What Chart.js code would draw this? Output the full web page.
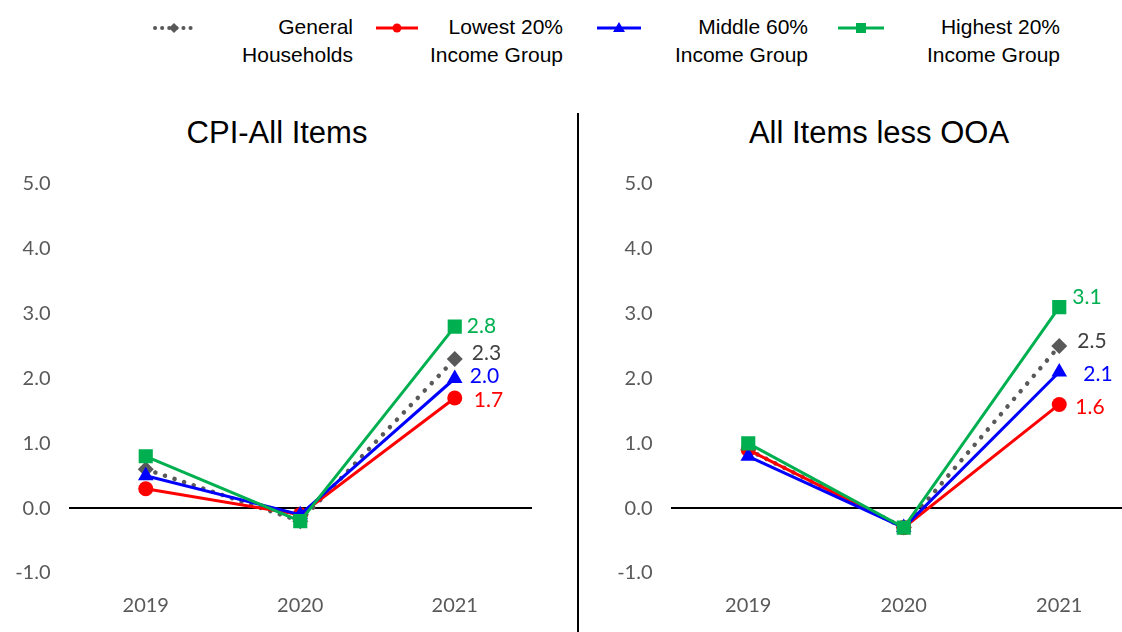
<!DOCTYPE html>
<html>
<head>
<meta charset="utf-8">
<script src="https://cdn.jsdelivr.net/npm/chart.js@4.4.1/dist/chart.umd.min.js"></script>
<style>
  html, body { margin:0; padding:0; background:#fff; }
  body { width:1122px; height:632px; overflow:hidden; position:relative; font-family:"Liberation Sans", Arial, sans-serif; }
  .abs { position:absolute; }
  .legtext { position:absolute; width:220px; text-align:right; font-size:21px; line-height:28px; color:#000; top:13px; }
  .title { position:absolute; font-size:31px; line-height:36px; top:115px; transform:translateX(-50%); white-space:nowrap; color:#000; }
  #divider { position:absolute; left:577px; top:113px; width:2px; height:519px; background:#000; }
</style>
</head>
<body>
<!-- Legend symbols -->
<svg class="abs" style="left:0;top:0" width="1122" height="60">
  <line x1="155" y1="28" x2="193" y2="28" stroke="#595959" stroke-width="4" stroke-dasharray="0.1 7" stroke-linecap="round"/>
  <polygon points="174,23 179,28 174,33 169,28" fill="#595959"/>
  <line x1="376" y1="28" x2="418" y2="28" stroke="#FF0000" stroke-width="3"/>
  <circle cx="397" cy="28" r="4.5" fill="#FF0000"/>
  <line x1="597" y1="28" x2="641" y2="28" stroke="#0000FF" stroke-width="3"/>
  <polygon points="619,22 625,32 613,32" fill="#0000FF"/>
  <line x1="838" y1="28" x2="884" y2="28" stroke="#00B050" stroke-width="3"/>
  <rect x="856" y="23" width="10" height="10" fill="#00B050"/>
</svg>
<div class="legtext" style="left:133px">General<br>Households</div>
<div class="legtext" style="left:343px">Lowest 20%<br>Income Group</div>
<div class="legtext" style="left:588px">Middle 60%<br>Income Group</div>
<div class="legtext" style="left:840px">Highest 20%<br>Income Group</div>

<div class="title" style="left:277px">CPI-All Items</div>
<div class="title" style="left:879px">All Items less OOA</div>
<div id="divider"></div>

<div class="abs" style="left:0;top:0"><canvas id="c1" width="578" height="632"></canvas></div>
<div class="abs" style="left:578px;top:0"><canvas id="c2" width="569" height="632"></canvas></div>

<script>
// ---- Data ----
const years = ['2019', '2020', '2021'];
const yTicks = [-1, 0, 1, 2, 3, 4, 5];

const seriesNames = ['General Households', 'Lowest 20% Income Group', 'Middle 60% Income Group', 'Highest 20% Income Group'];

// CPI-All Items
const cpiGeneral = [0.6, -0.2, 2.3];
const cpiLowest  = [0.3, -0.1, 1.7];
const cpiMiddle  = [0.5, -0.1, 2.0];
const cpiHighest = [0.8, -0.2, 2.8];

// All Items less OOA
const ooaGeneral = [0.9, -0.3, 2.5];
const ooaLowest  = [0.9, -0.3, 1.6];
const ooaMiddle  = [0.8, -0.3, 2.1];
const ooaHighest = [1.0, -0.3, 3.1];

// ---- Styles ----
const COLORS = { general:'#595959', lowest:'#FF0000', middle:'#0000FF', highest:'#00B050' };
const LABEL_COLORS = { general:'#404040', lowest:'#FF0000', middle:'#0000FF', highest:'#00B050' };
const tickFont = { family:'Lato, "Open Sans", sans-serif', size:20 };

function makeDatasets(g, l, m, h) {
  return [
    { key:'highest', label:seriesNames[3], data:h, borderColor:COLORS.highest, backgroundColor:COLORS.highest,
      borderWidth:3, pointStyle:'rect', pointRadius:10, order:0 },
    { key:'middle', label:seriesNames[2], data:m, borderColor:COLORS.middle, backgroundColor:COLORS.middle,
      borderWidth:3, pointStyle:'triangle', pointRadius:9, order:1 },
    { key:'lowest', label:seriesNames[1], data:l, borderColor:COLORS.lowest, backgroundColor:COLORS.lowest,
      borderWidth:3, pointStyle:'circle', pointRadius:7.5, order:2 },
    { key:'general', label:seriesNames[0], data:g, borderColor:COLORS.general, backgroundColor:COLORS.general,
      borderWidth:4.5, borderDash:[0.1, 10], borderCapStyle:'round', pointStyle:'rectRot', pointRadius:8, order:3 }
  ].map(d => Object.assign({ fill:false, tension:0, pointBorderWidth:0, pointHoverRadius:d.pointRadius }, d));
}

const endLabelPlugin = {
  id:'endLabels',
  afterDatasetsDraw(chart, args, opts) {
    const ctx = chart.ctx;
    ctx.save();
    ctx.font = '21px Lato, "Open Sans", sans-serif';
    ctx.textAlign = 'left';
    ctx.textBaseline = 'middle';
    chart.data.datasets.forEach((ds, i) => {
      const meta = chart.getDatasetMeta(i);
      const last = meta.data[meta.data.length - 1];
      const off = opts.offsets[ds.key] || [12, 0];
      ctx.fillStyle = LABEL_COLORS[ds.key];
      ctx.fillText(ds.data[ds.data.length - 1].toFixed(1), last.x + off[0], last.y + off[1]);
    });
    ctx.restore();
  }
};

function makeChart(id, datasets, yWidth, padRight, offsets) {
  return new Chart(document.getElementById(id), {
    type:'line',
    data:{ labels:years, datasets },
    plugins:[endLabelPlugin],
    options:{
      responsive:false, animation:false, devicePixelRatio:1,
      layout:{ padding:{ top:184, right:padRight, left:0, bottom:0 } },
      plugins:{ legend:{ display:false }, tooltip:{ enabled:false }, title:{ display:false },
        endLabels:{ offsets } },
      scales:{
        x:{ type:'category', offset:true, grid:{ display:false }, border:{ display:false },
            ticks:{ padding:13, color:'#595959', font:tickFont },
            afterFit(s){ s.height = 59; } },
        y:{ min:yTicks[0], max:yTicks[yTicks.length-1],
            afterBuildTicks(s){ s.ticks = yTicks.map(v => ({ value:v })); },
            ticks:{ padding:18, color:'#595959', font:tickFont, callback:v => Number(v).toFixed(1) },
            grid:{ drawTicks:false, lineWidth:2, color:c => (c.tick && c.tick.value === 0) ? '#000' : 'rgba(0,0,0,0)' },
            border:{ display:false },
            afterFit(s){ s.width = yWidth; } }
      }
    }
  });
}

makeChart('c1', makeDatasets(cpiGeneral, cpiLowest, cpiMiddle, cpiHighest), 68.5, 46,
  { highest:[12, 0], general:[17, -6], middle:[15, -2], lowest:[19, 2] });
makeChart('c2', makeDatasets(ooaGeneral, ooaLowest, ooaMiddle, ooaHighest), 92.5, 4,
  { highest:[13, -10], general:[18, -5], middle:[24, 2], lowest:[16, 3] });
</script>
</body>
</html>
